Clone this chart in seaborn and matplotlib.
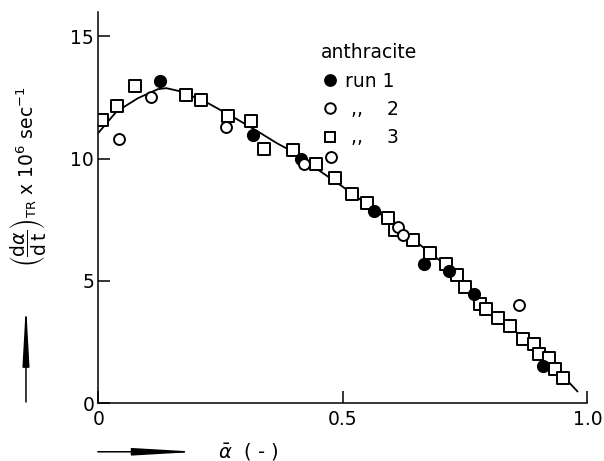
import matplotlib
matplotlib.use("Agg")
import matplotlib.pyplot as plt
from matplotlib.lines import Line2D
import seaborn as sns

# ---- data ----
run1_x = [0.126, 0.316, 0.414, 0.564, 0.666, 0.717, 0.769, 0.910]
run1_y = [13.18, 10.97, 9.97, 7.87, 5.70, 5.41, 4.45, 1.52]

run2_x = [0.042, 0.107, 0.262, 0.421, 0.476, 0.612, 0.624, 0.861]
run2_y = [10.78, 12.50, 11.31, 9.77, 10.08, 7.22, 6.88, 4.02]

run3_x = [0.008, 0.039, 0.075, 0.180, 0.209, 0.266, 0.313, 0.339, 0.398,
          0.445, 0.483, 0.518, 0.549, 0.592, 0.607, 0.644, 0.678, 0.710,
          0.733, 0.749, 0.781, 0.793, 0.818, 0.841, 0.869, 0.891, 0.901,
          0.921, 0.933, 0.950]
run3_y = [11.58, 12.15, 12.97, 12.60, 12.40, 11.75, 11.55, 10.40, 10.33,
          9.78, 9.20, 8.56, 8.20, 7.56, 7.08, 6.65, 6.13, 5.70,
          5.25, 4.74, 4.06, 3.84, 3.47, 3.16, 2.62, 2.42, 2.02,
          1.84, 1.39, 1.02]

curve_x = [0.0, 0.037, 0.081, 0.122, 0.139, 0.170, 0.224, 0.280, 0.327,
           0.365, 0.390, 0.496, 0.596, 0.697, 0.798, 0.899, 0.980]
curve_y = [11.05, 11.92, 12.47, 12.84, 12.88, 12.74, 12.27, 11.65, 11.10,
           10.63, 10.36, 8.90, 7.45, 5.85, 3.80, 2.20, 0.47]

x_ticks = [0, 0.5, 1.0]
x_ticklabels = ["0", "0.5", "1.0"]
y_ticks = [0, 5, 10, 15]
y_ticklabels = ["0", "5", "10", "15"]

legend_title = "anthracite"
legend_labels = ["run 1", " ,,    2", " ,,    3"]

# ---- style ----
sns.set_style("ticks")
plt.rcParams["font.family"] = ["DejaVu Sans"]
plt.rcParams["mathtext.fontset"] = "dejavusans"
plt.rcParams["text.color"] = "black"
plt.rcParams["axes.labelcolor"] = "black"

fig = plt.figure(figsize=(6.04, 4.61), dpi=100)
ax = fig.add_axes([0.1628, 0.1258, 0.8096, 0.8484])

sns.lineplot(x=curve_x, y=curve_y, ax=ax, color="black", lw=1.3, sort=False,
             zorder=1)

sns.scatterplot(x=run1_x, y=run1_y, ax=ax, marker="o", color="black",
                edgecolor="black", linewidth=1.0, s=72, zorder=3)
sns.scatterplot(x=run2_x, y=run2_y, ax=ax, marker="o", color="white",
                edgecolor="black", linewidth=1.4, s=62, zorder=3)
sns.scatterplot(x=run3_x, y=run3_y, ax=ax, marker="s", color="white",
                edgecolor="black", linewidth=1.4, s=66, zorder=2)

ax.set_xlim(0, 1.0)
ax.set_ylim(0, 16)
ax.set_xticks(x_ticks)
ax.set_xticklabels(x_ticklabels)
ax.set_yticks(y_ticks)
ax.set_yticklabels(y_ticklabels)

for s in ["top", "right"]:
    ax.spines[s].set_visible(False)
for s in ["left", "bottom"]:
    ax.spines[s].set_linewidth(1.1)
    ax.spines[s].set_color("black")
ax.tick_params(axis="both", direction="in", length=8.5, width=1.1,
               labelsize=13.5, colors="black")
ax.tick_params(axis="x", pad=5)
ax.tick_params(axis="y", pad=3)

ax.set_ylabel(r"$\left(\dfrac{\mathrm{d}\alpha}{\mathrm{d}\,\mathrm{t}}\right)_{\mathrm{TR}}$"
              r" x 10$^{6}$ sec$^{-1}$", fontsize=13.5)
ax.yaxis.set_label_coords(-0.144, 0.579)
ax.yaxis.label.set_va("center")

ax.set_xlabel(r"$\bar{\alpha}$  ( - )", fontsize=14)
ax.xaxis.set_label_coords(0.306, -0.124)
ax.xaxis.label.set_va("center")

# arrows beside the axis titles
ax.annotate("", xy=(0.043, 0.342), xytext=(0.043, 0.128),
            xycoords="figure fraction", textcoords="figure fraction",
            arrowprops=dict(arrowstyle="-|>,head_length=3.6,head_width=0.2",
                            color="black", lw=1.1, mutation_scale=10,
                            shrinkA=0, shrinkB=0))
ax.annotate("", xy=(0.327, 0.020), xytext=(0.162, 0.020),
            xycoords="figure fraction", textcoords="figure fraction",
            arrowprops=dict(arrowstyle="-|>,head_length=3.8,head_width=0.22",
                            color="black", lw=1.1, mutation_scale=10,
                            shrinkA=0, shrinkB=0))

handles = [
    Line2D([], [], ls="none", marker="o", ms=8.2, mfc="black", mec="black"),
    Line2D([], [], ls="none", marker="o", ms=7.6, mfc="white", mec="black", mew=1.4),
    Line2D([], [], ls="none", marker="s", ms=7.6, mfc="white", mec="black", mew=1.4),
]
leg = ax.legend(handles, legend_labels, title=legend_title, loc="upper left",
                bbox_to_anchor=(0.455, 0.92), frameon=False, fontsize=13.5,
                title_fontsize=13.5, alignment="left", handlelength=1.0,
                handletextpad=0.3, labelspacing=0.5, borderpad=0,
                borderaxespad=0)
leg.get_title().set_color("black")
for t in leg.get_texts():
    t.set_color("black")

fig.savefig("out.png", dpi=100)
